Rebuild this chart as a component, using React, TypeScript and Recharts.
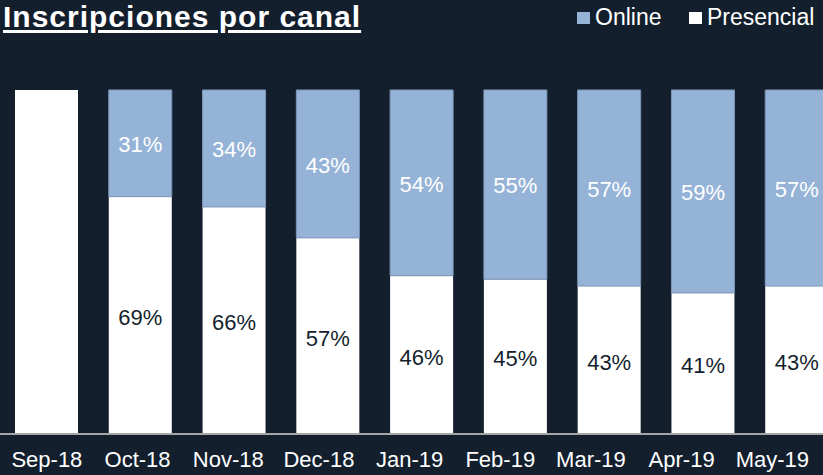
import { BarChart, Bar, XAxis, YAxis, LabelList } from 'recharts'

const MONTHS = ['Sep-18', 'Oct-18', 'Nov-18', 'Dec-18', 'Jan-19', 'Feb-19', 'Mar-19', 'Apr-19', 'May-19']
const PRESENCIAL = [100, 69, 66, 57, 46, 45, 43, 41, 43]
const ONLINE = [0, 31, 34, 43, 54, 55, 57, 59, 57]

const BG = '#141f2e'
const BLUE = '#95b3d7'
const FONT = '"Liberation Sans", Arial, sans-serif'

const data = MONTHS.map((m, i) => ({ month: m, presencial: PRESENCIAL[i], online: ONLINE[i] }))

const pct = (v: any) => (v > 0 && v < 100 ? `${v}%` : '')

// month labels sit a bit tighter than the bars in the original
function MonthTick(props: any) {
  const { x, y, payload, index } = props
  return (
    <text x={x - index * 3.1} y={y + 25} textAnchor="middle" fill="#ffffff" fontSize={22} fontFamily={FONT}>
      {payload.value}
    </text>
  )
}

function LegendBox() {
  const item = (color: string, label: string, left: number) => (
    <div style={{ position: 'absolute', left, top: 0, display: 'flex', alignItems: 'center' }}>
      <span style={{ width: 13, height: 12, background: color, marginRight: 5 }} />
      <span>{label}</span>
    </div>
  )
  return (
    <div style={{ position: 'absolute', left: 0, top: 4, color: '#fff', fontFamily: FONT, fontSize: 23, width: 823 }}>
      {item(BLUE, 'Online', 577)}
      {item('#ffffff', 'Presencial', 689)}
    </div>
  )
}

export default function App() {
  return (
    <div style={{ position: 'absolute', left: 0, top: 0, width: 823, height: 475, overflow: 'hidden', background: BG }}>
      <div
        style={{
          position: 'absolute',
          left: 3,
          top: 0,
          color: '#fff',
          fontFamily: FONT,
          fontWeight: 'bold',
          fontSize: 30,
          letterSpacing: 1,
          textDecoration: 'underline',
          textDecorationThickness: 3,
          textUnderlineOffset: 3,
          zIndex: 2,
        }}
      >
        Inscripciones por canal
      </div>
      <LegendBox />
      <BarChart width={844} height={475} data={data} margin={{ top: 90, right: 0, left: 0, bottom: 0 }} barSize={63}>
        <YAxis hide domain={[0, 100]} />
        <XAxis
          dataKey="month"
          height={41}
          tickLine={false}
          axisLine={{ stroke: '#a6a6a6', strokeWidth: 2 }}
          tick={<MonthTick />}
          interval={0}
        />
        <Bar dataKey="presencial" stackId="a" fill="#ffffff" isAnimationActive={false}>
          <LabelList dataKey="presencial" position="center" formatter={pct} fill="#141f2e" fontSize={22} fontFamily={FONT} dy={2} />
        </Bar>
        <Bar dataKey="online" stackId="a" fill={BLUE} stroke="#7e97b8" strokeWidth={1} isAnimationActive={false}>
          <LabelList dataKey="online" position="center" formatter={pct} fill="#ffffff" fontSize={22} fontFamily={FONT} dy={1} />
        </Bar>
      </BarChart>
    </div>
  )
}
